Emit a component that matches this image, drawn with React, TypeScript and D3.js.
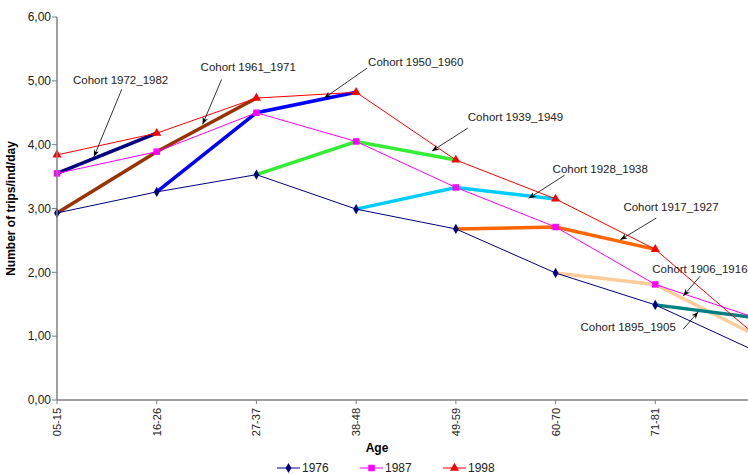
import * as d3 from 'd3';
import {useMemo} from 'react';

const WIDTH = 748;
const HEIGHT = 474;
const FONT = 'Arial, "Liberation Sans", Helvetica, sans-serif';

const ages = ['05-15', '16-26', '27-37', '38-48', '49-59', '60-70', '71-81', '82-92'];
const surveys = ['1976', '1987', '1998'];
const trips1976 = [2.93, 3.26, 3.53, 2.99, 2.68, 1.99, 1.49, 0.77];
const trips1987 = [3.55, 3.89, 4.5, 4.05, 3.33, 2.71, 1.81, 1.29];
const trips1998 = [3.84, 4.18, 4.73, 4.82, 3.76, 3.15, 2.36, 1.02];
const cohorts = ['1972_1982', '1961_1971', '1950_1960', '1939_1949', '1928_1938', '1917_1927', '1906_1916', '1895_1905'];
const yTicks = [0, 1, 2, 3, 4, 5, 6];

const surveyColors = ['#000080', '#ff00ff', '#ff0000'];
const surveySymbols = [d3.symbolDiamond, d3.symbolSquare, d3.symbolTriangle];
const surveySizes = [30, 42, 36];
const cohortColors = ['#000080', '#993300', '#0000ff', '#33ee33', '#00ccff', '#ff6600', '#ffcc99', '#008080'];

// label placement in data units: [textIndex, textValue, fromIndex, fromValue, toIndex, toValue]
const labelSpots: [number, number, number, number, number, number][] = [
  [0.16, 5.01, 0.65, 4.87, 0.37, 3.81],
  [1.44, 5.22, 1.65, 5.02, 1.46, 4.32],
  [3.12, 5.3, 3.11, 5.2, 2.68, 4.73],
  [4.12, 4.43, 4.12, 4.26, 3.76, 3.9],
  [4.97, 3.62, 5.09, 3.52, 4.73, 3.16],
  [5.68, 3.02, 6.01, 2.85, 5.65, 2.51],
  [5.97, 2.05, 6.45, 1.94, 6.28, 1.63],
  [5.25, 1.14, 6.28, 1.11, 6.43, 1.38],
];

const left = 57;
const top = 17;
const bottom = 400;
const lastX = 755;

export default function App() {
  const x = useMemo(() => d3.scalePoint<string>().domain(ages).range([left, lastX]), []);
  const xi = useMemo(() => d3.scaleLinear().domain([0, ages.length - 1]).range([left, lastX]), []);
  const y = useMemo(() => d3.scaleLinear().domain([0, 6]).range([bottom, top]), []);

  const series = [trips1976, trips1987, trips1998];

  const line = d3
    .line<[number, number]>()
    .x((d) => xi(d[0]))
    .y((d) => y(d[1]));

  // each cohort: 1976 at age k-1, 1987 at age k, 1998 at age k+1
  const cohortPoints = cohorts.map((_, k) => {
    const pts: [number, number][] = [];
    series.forEach((vals, s) => {
      const idx = k - 1 + s;
      if (idx >= 0 && idx < ages.length) pts.push([idx, vals[idx]]);
    });
    return pts;
  });

  const fmt = (v: number) => v.toFixed(2).replace('.', ',');

  return (
    <svg
      width={WIDTH}
      height={HEIGHT}
      style={{position: 'absolute', left: 0, top: 0, background: '#fff'}}
      fontFamily={FONT}
    >
      <defs>
        <marker id="arr" viewBox="0 0 10 10" refX="10" refY="5" markerWidth="7" markerHeight="7" orient="auto" markerUnits="userSpaceOnUse">
          <path d="M0,1 L10,5 L0,9 L3,5 Z" fill="#000" />
        </marker>
      </defs>

      {/* cohort lines */}
      {cohortPoints.map((pts, k) => (
        <path key={cohorts[k]} d={line(pts)!} fill="none" stroke={cohortColors[k]} strokeWidth={3.5} />
      ))}

      {/* survey lines */}
      {series.map((vals, s) => (
        <path
          key={surveys[s]}
          d={line(vals.map((v, i) => [i, v] as [number, number]))!}
          fill="none"
          stroke={surveyColors[s]}
          strokeWidth={1}
        />
      ))}
      {series.map((vals, s) =>
        vals.map((v, i) => (
          <path
            key={`${s}-${i}`}
            transform={`translate(${x(ages[i])},${y(v)})`}
            d={d3.symbol(surveySymbols[s], surveySizes[s])()!}
            fill={surveyColors[s]}
          />
        )),
      )}

      {/* axes */}
      <line x1={left} x2={left} y1={top} y2={bottom} stroke="#808080" strokeWidth={1.5} />
      <line x1={left} x2={WIDTH} y1={bottom} y2={bottom} stroke="#808080" strokeWidth={1.5} />
      {yTicks.map((t) => (
        <g key={t}>
          <line x1={left - 5} x2={left} y1={y(t)} y2={y(t)} stroke="#808080" strokeWidth={1} />
          <text x={left - 6} y={y(t)} dy="0.35em" textAnchor="end" fontSize={12} fill="#222">
            {fmt(t)}
          </text>
        </g>
      ))}
      {ages.map((a) => (
        <g key={a}>
          <line x1={x(a)} x2={x(a)} y1={bottom} y2={bottom + 4} stroke="#808080" strokeWidth={1} />
          {x(a)! < WIDTH && (
            <text
              transform={`translate(${x(a)! + 4},${bottom + 8}) rotate(-90)`}
              textAnchor="end"
              fontSize={11}
              fill="#222"
            >
              {a}
            </text>
          )}
        </g>
      ))}

      <text
        transform={`translate(15,${(top + bottom) / 2}) rotate(-90)`}
        textAnchor="middle"
        fontSize={12}
        fontWeight="bold"
      >
        Number of trips/ind/day
      </text>
      <text x={377} y={452} textAnchor="middle" fontSize={12} fontWeight="bold">
        Age
      </text>

      {/* annotations */}
      {labelSpots.map(([tx, tv, fx, fv, ex, ev], k) => (
        <g key={cohorts[k]}>
          <text x={xi(tx)} y={y(tv)} dy="0.35em" fontSize={11.5} fill="#222">
            {`Cohort ${cohorts[k]}`}
          </text>
          <line x1={xi(fx)} y1={y(fv)} x2={xi(ex)} y2={y(ev)} stroke="#000" strokeWidth={0.8} markerEnd="url(#arr)" />
        </g>
      ))}

      {/* legend */}
      {surveys.map((s, i) => {
        const lx = 277 + i * 83;
        const ly = 468;
        return (
          <g key={s}>
            <line x1={lx} x2={lx + 23} y1={ly} y2={ly} stroke={surveyColors[i]} strokeWidth={1} />
            <path transform={`translate(${lx + 11.5},${ly})`} d={d3.symbol(surveySymbols[i], surveySizes[i])()!} fill={surveyColors[i]} />
            <text x={lx + 25} y={ly} dy="0.35em" fontSize={12} fill="#222">
              {s}
            </text>
          </g>
        );
      })}
    </svg>
  );
}
